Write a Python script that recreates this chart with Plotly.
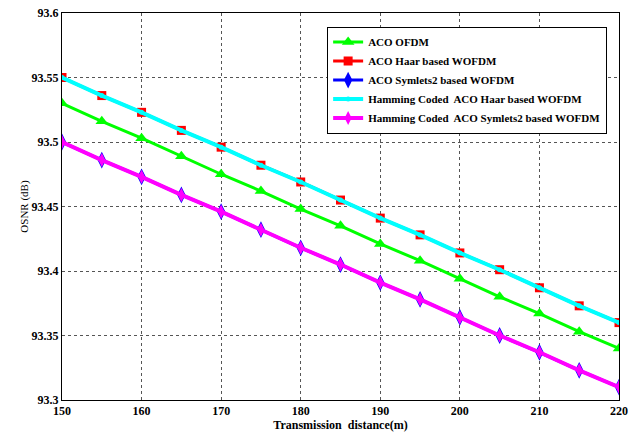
import plotly.graph_objects as go

distance = [150, 155, 160, 165, 170, 175, 180, 185, 190, 195, 200, 205, 210, 215, 220]
aco_ofdm = [93.530, 93.516, 93.503, 93.489, 93.475, 93.462, 93.448, 93.435, 93.421, 93.408, 93.394, 93.380, 93.367, 93.353, 93.340]
aco_haar = [93.550, 93.536, 93.523, 93.509, 93.496, 93.482, 93.469, 93.455, 93.441, 93.428, 93.414, 93.401, 93.387, 93.373, 93.360]
aco_sym2 = [93.500, 93.486, 93.473, 93.459, 93.446, 93.432, 93.418, 93.405, 93.391, 93.378, 93.364, 93.350, 93.337, 93.323, 93.310]
ham_haar = [93.550, 93.536, 93.523, 93.509, 93.496, 93.482, 93.469, 93.455, 93.441, 93.428, 93.414, 93.401, 93.387, 93.373, 93.360]
ham_sym2 = [93.500, 93.486, 93.473, 93.459, 93.446, 93.432, 93.418, 93.405, 93.391, 93.378, 93.364, 93.350, 93.337, 93.323, 93.310]

x_ticks = [150, 160, 170, 180, 190, 200, 210, 220]
y_ticks = [93.3, 93.35, 93.4, 93.45, 93.5, 93.55, 93.6]
y_labels = ["93.3", "93.35", "93.4", "93.45", "93.5", "93.55", "93.6"]

FONT = "Liberation Serif, Times New Roman, serif"

fig = go.Figure()
fig.add_trace(go.Scatter(x=distance, y=aco_ofdm, name="<b>ACO OFDM</b>", mode="lines+markers",
                         line=dict(color="#00ff00", width=3),
                         marker=dict(symbol="triangle-up", size=11, color="#00ff00")))
fig.add_trace(go.Scatter(x=distance, y=aco_haar, name="<b>ACO Haar based WOFDM</b>", mode="lines+markers",
                         line=dict(color="#ff0000", width=3),
                         marker=dict(symbol="square", size=9, color="#ff0000")))
fig.add_trace(go.Scatter(x=distance, y=aco_sym2, name="<b>ACO Symlets2 based WOFDM</b>", mode="lines+markers",
                         line=dict(color="#0000ff", width=3),
                         marker=dict(symbol="diamond-tall", size=12, color="#0000ff")))
fig.add_trace(go.Scatter(x=distance, y=ham_haar, name="<b>Hamming Coded  ACO Haar based WOFDM</b>", mode="lines+markers",
                         line=dict(color="#00ffff", width=4),
                         marker=dict(symbol="circle", size=5, color="#00ffff")))
fig.add_trace(go.Scatter(x=distance, y=ham_sym2, name="<b>Hamming Coded  ACO Symlets2 based WOFDM</b>", mode="lines+markers",
                         line=dict(color="#ff00ff", width=4),
                         marker=dict(symbol="diamond-tall", size=10, color="#ff00ff")))

axis_common = dict(showline=True, linecolor="black", linewidth=1, mirror=True,
                   showgrid=True, gridcolor="#555555", griddash="dot", gridwidth=1,
                   ticks="", zeroline=False, automargin=False,
                   tickfont=dict(family=FONT, size=12, color="black"))

fig.update_layout(
    width=629, height=432,
    margin=dict(l=62, r=10, t=13, b=32),
    paper_bgcolor="white", plot_bgcolor="white",
    font=dict(family=FONT, color="black"),
    showlegend=True,
    legend=dict(x=0.476, y=0.965, xanchor="left", yanchor="top",
                bgcolor="white", bordercolor="black", borderwidth=1,
                font=dict(family=FONT, size=11, color="black"),
                tracegroupgap=0, itemwidth=30),
)
fig.update_xaxes(range=[150, 220], tickvals=x_ticks, ticktext=["<b>%d</b>" % v for v in x_ticks],
                 title=dict(text="<b>Transmission  distance(m)</b>", font=dict(family=FONT, size=12), standoff=0),
                 **axis_common)
fig.update_yaxes(range=[93.3, 93.6], tickvals=y_ticks, ticktext=["<b>%s</b>" % t for t in y_labels],
                 title=dict(text="OSNR (dB)", font=dict(family=FONT, size=11), standoff=0),
                 **axis_common)

fig.write_html("out.html")
